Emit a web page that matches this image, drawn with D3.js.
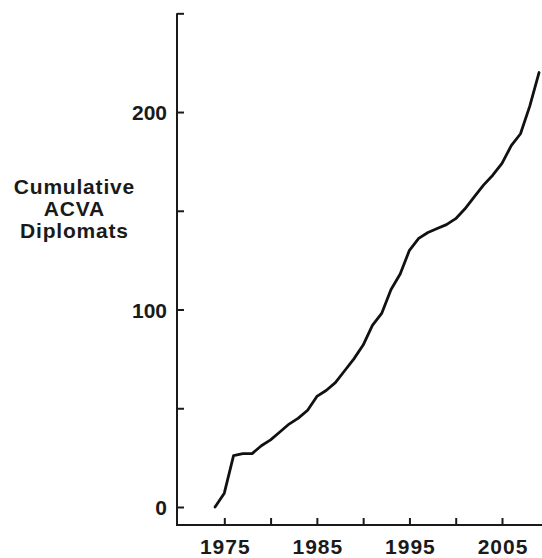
<!DOCTYPE html>
<html>
<head>
<meta charset="utf-8">
<script src="https://cdn.jsdelivr.net/npm/d3@7"></script>
<style>
  html, body { margin: 0; padding: 0; background: #fff; }
  svg { display: block; }
  text { font-family: "Liberation Sans", Arial, Helvetica, sans-serif; font-weight: bold; fill: #1a1a1a; }
</style>
</head>
<body>
<script>
// Cumulative number of ACVA diplomates by year
const years = [1974, 1975, 1976, 1977, 1978, 1979, 1980, 1981, 1982, 1983,
               1984, 1985, 1986, 1987, 1988, 1989, 1990, 1991, 1992, 1993,
               1994, 1995, 1996, 1997, 1998, 1999, 2000, 2001, 2002, 2003,
               2004, 2005, 2006, 2007, 2008, 2009];
const diplomates = [0, 7, 26, 27, 27, 31, 34, 38, 42, 45,
                    49, 56, 59, 63, 69, 75, 82, 92, 98, 110,
                    118, 130, 136, 139, 141, 143, 146, 151, 157, 163,
                    168, 174, 183, 189, 203, 220];

const xTicks = [1975, 1980, 1985, 1990, 1995, 2000, 2005];
const xTickLabels = ["1975", "", "1985", "", "1995", "", "2005"];
const yTicks = [0, 50, 100, 150, 200, 250];
const yTickLabels = ["0", "", "100", "", "200", ""];
const yTitle = ["Cumulative", "ACVA", "Diplomats"];

const W = 542, H = 558;
const axisX = 177, axisY = 525;

const svg = d3.select("body").append("svg")
  .attr("width", W).attr("height", H);

const x = d3.scaleLinear().domain([1975, 2005]).range([224.3, 502]);
const y = d3.scaleLinear().domain([0, 250]).range([507, 13.3]);

const stroke = "#1a1a1a";

// axis lines forming an L
svg.append("path")
  .attr("d", `M${axisX},${y(250)}V${axisY}H${W}`)
  .attr("fill", "none").attr("stroke", stroke).attr("stroke-width", 2);

// y axis ticks (pointing inward) and labels
const yAxis = d3.axisLeft(y)
  .tickValues(yTicks)
  .tickSizeInner(-7).tickSizeOuter(0)
  .tickFormat((d, i) => yTickLabels[i]);
const gy = svg.append("g").attr("transform", `translate(${axisX},0)`).call(yAxis);
gy.select(".domain").remove();
gy.selectAll(".tick line").attr("stroke", stroke).attr("stroke-width", 2);
gy.selectAll(".tick text")
  .attr("x", -10).attr("dy", "0.36em")
  .style("font-size", "21px").style("font-family", null).attr("fill", null);

// x axis ticks (pointing inward) and labels
const xAxis = d3.axisBottom(x)
  .tickValues(xTicks)
  .tickSizeInner(-7).tickSizeOuter(0)
  .tickFormat((d, i) => xTickLabels[i]);
const gx = svg.append("g").attr("transform", `translate(0,${axisY})`).call(xAxis);
gx.select(".domain").remove();
gx.selectAll(".tick line").attr("stroke", stroke).attr("stroke-width", 2);
gx.selectAll(".tick text")
  .attr("y", 28.5).attr("dy", 0).attr("dx", 0.5)
  .style("letter-spacing", "1px")
  .style("font-size", "21px").style("font-family", null).attr("fill", null);

// y axis title
const title = svg.append("text")
  .attr("text-anchor", "middle")
  .style("font-size", "21px")
  .style("letter-spacing", "0.8px");
const titleBaselines = [193.5, 216, 237.5];
yTitle.forEach((t, i) => {
  title.append("tspan").attr("x", 74.4).attr("y", titleBaselines[i]).text(t);
});

// cumulative line
const line = d3.line()
  .x((d, i) => x(years[i]))
  .y(d => y(d));
svg.append("path")
  .datum(diplomates)
  .attr("d", line)
  .attr("fill", "none")
  .attr("stroke", "#111")
  .attr("stroke-width", 2.8)
  .attr("stroke-linejoin", "round")
  .attr("stroke-linecap", "round");
</script>
</body>
</html>
